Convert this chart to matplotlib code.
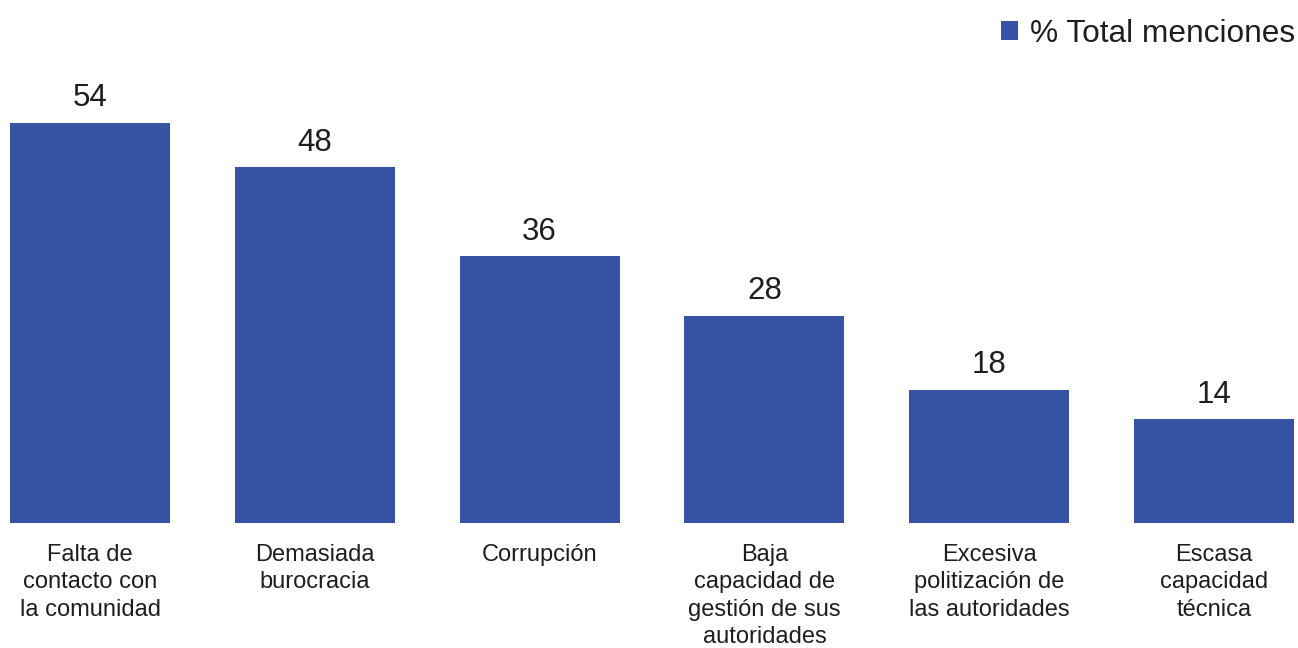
import matplotlib.pyplot as plt
from matplotlib.patches import Patch

# Chart data
categories = ["Falta de\ncontacto con\nla comunidad", "Demasiada\nburocracia", "Corrupción",
              "Baja\ncapacidad de\ngestión de sus\nautoridades", "Excesiva\npolitización de\nlas autoridades",
              "Escasa\ncapacidad\ntécnica"]
values = [54, 48, 36, 28, 18, 14]
series_name = "% Total menciones"

bar_color = '#3554A4'
text_color = '#1e1e1e'

plt.rcParams['font.family'] = ['Liberation Sans', 'DejaVu Sans']

fig = plt.figure(figsize=(12.98, 6.48), dpi=100)
ax = fig.add_axes([0, 125 / 648, 1, 443 / 648])

x = list(range(len(values)))
bars = ax.bar(x, values, width=160 / 224.8, color=bar_color)

for xi, v in zip(x, values):
    ax.annotate(str(v), (xi, v), xytext=(0, 12), textcoords='offset points',
                ha='center', va='baseline', fontsize=22.5, color=text_color)

ax.set_xlim(-90 / 224.8, (1298 - 90) / 224.8)
ax.set_ylim(0, 59.8)
ax.set_xticks(x)
ax.set_xticklabels(categories, fontsize=17, color=text_color, linespacing=1.32)
ax.tick_params(axis='x', length=0, pad=15)
ax.set_yticks([])
for s in ax.spines.values():
    s.set_visible(False)

handle = Patch(facecolor=bar_color, edgecolor='none')
fig.legend([handle], [series_name], loc='upper right', bbox_to_anchor=(1295 / 1298, 1 - 19 / 648),
           frameon=False, fontsize=22.8, handlelength=0.54, handleheight=0.54,
           handletextpad=0.38, borderpad=0, borderaxespad=0, labelcolor=text_color)

plt.savefig('out.png')
plt.close()
